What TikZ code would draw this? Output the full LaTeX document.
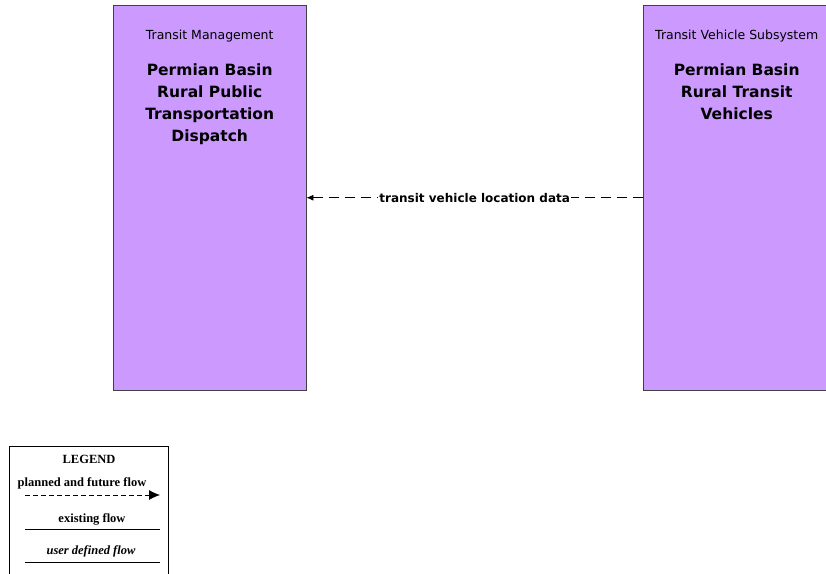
\documentclass[tikz,border=0pt]{standalone}
\usepackage{fontspec}
\setmainfont{DejaVu Sans}
\newfontfamily\legendfont{Liberation Serif}
\definecolor{boxPurple}{RGB}{204,153,255}
\definecolor{boxEdge}{RGB}{64,64,64}
\usepackage{tikz}
\usetikzlibrary{arrows.meta,positioning,calc}

\begin{document}
\begin{tikzpicture}[x=1pt,y=-1pt,
    sysbox/.style={draw=boxEdge, fill=boxPurple, anchor=north west, inner sep=0pt,
      minimum width=193pt, minimum height=385pt},
    classlbl/.style={inner sep=0pt, font=\fontsize{12.5}{14}\selectfont},
    titlelbl/.style={inner sep=0pt, align=center, font=\fontsize{15.5}{22}\selectfont\bfseries},
    flowline/.style={thick, dash pattern=on 10pt off 6pt, -{Latex[length=7pt,width=6pt]}},
    flowlbl/.style={fill=white, inner sep=1pt, font=\fontsize{12}{14}\selectfont\bfseries},
    legtext/.style={inner sep=0pt, font=\fontsize{12.5}{14}\selectfont\legendfont\bfseries}
  ]
    % page frame
    \useasboundingbox (0,0) rectangle (826,573);

    % Transit Management box
    \node[sysbox] (disp) at (113,5) {};
    \node[classlbl, below=25pt of disp.north] (dispclass) {Transit Management};
    \node[titlelbl, below=59pt of disp.north] (disptitle)
      {Permian Basin\\Rural Public\\Transportation\\Dispatch};

    % Transit Vehicle Subsystem box (runs off the right edge)
    \node[sysbox, minimum width=187pt] (veh) at (643,5) {};
    \node[classlbl, below=25pt of veh.north] (vehclass) {Transit Vehicle Subsystem};
    \node[titlelbl, below=59pt of veh.north] (vehtitle)
      {Permian Basin\\Rural Transit\\Vehicles};

    % flow between the two
    \draw[flowline] (veh.west) -- (disp.east)
      node[flowlbl, midway] (flowname) {transit vehicle location data};

    % Legend
    \node[draw=black, thick, fill=white, anchor=north west, inner sep=0pt,
      minimum width=159pt, minimum height=140pt] (legend) at (9,446) {};
    \node[legtext] (legtitle) at (89,459) {LEGEND};
    \node[legtext] (legplanned) at (82,483) {planned and future flow};
    \node[legtext] (legexisting) at (92,519) {existing flow};
    \node[legtext, font=\fontsize{12.5}{14}\selectfont\legendfont\bfseries\itshape] (leguser) at (91,551) {user defined flow};
    \coordinate (plannedA) at (25,495);
    \coordinate (plannedB) at (160,495);
    \coordinate (existingA) at (25,529);
    \coordinate (existingB) at (160,529);
    \coordinate (userA) at (25,562);
    \coordinate (userB) at (160,562);
    \draw[thick, dash pattern=on 5pt off 3pt, -{Latex[length=11pt,width=10pt]}] (plannedA) -- (plannedB);
    \draw[thick] (existingA) -- (existingB);
    \draw[thick] (userA) -- (userB);
  \end{tikzpicture}
\end{document}
